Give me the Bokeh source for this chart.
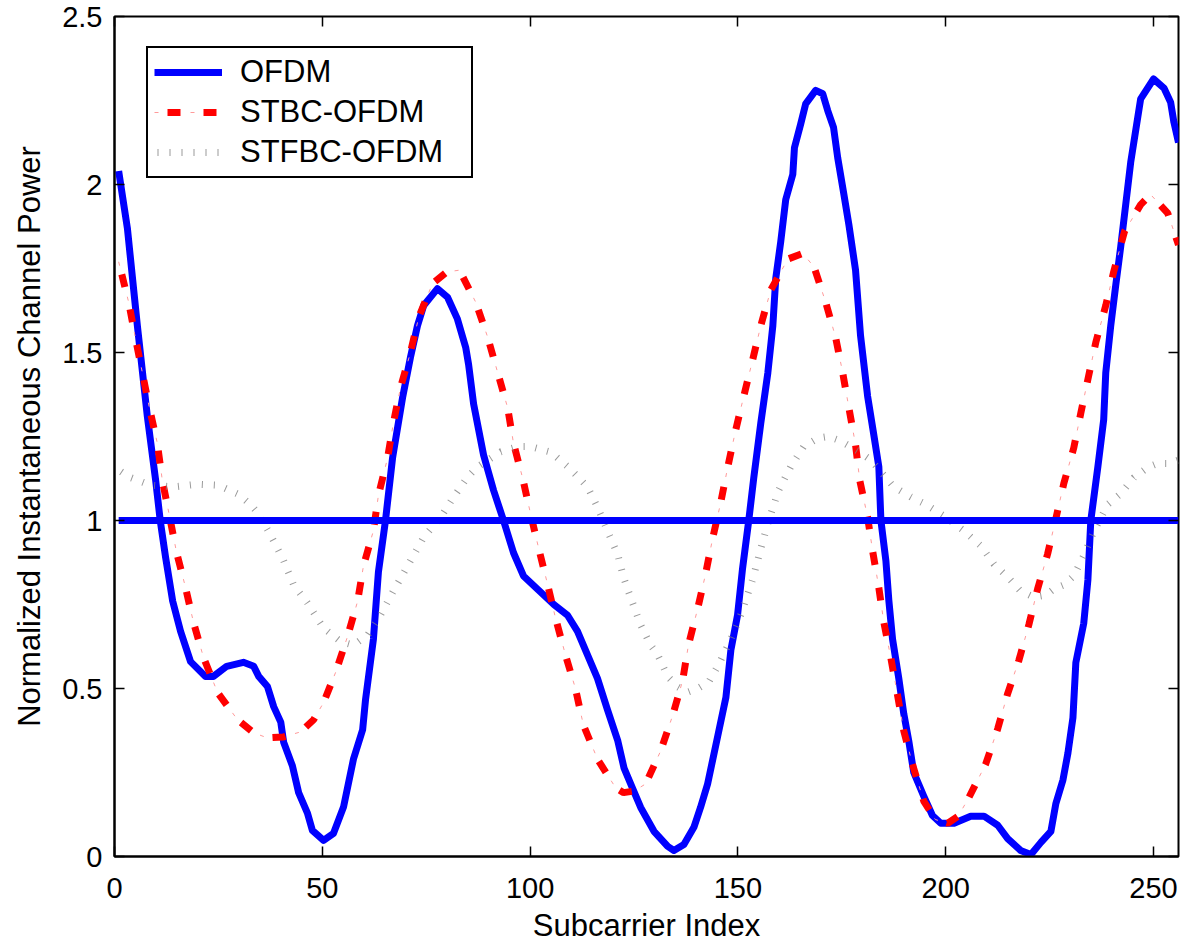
from bokeh.plotting import figure
from bokeh.models import (Range1d, LinearAxis, FixedTicker, CustomJSTickFormatter,
                          Legend, LegendItem)
from bokeh.embed import file_html
from bokeh.resources import INLINE

FONT = "Liberation Sans"

# ---------------- data ----------------
x_ticks = [0, 50, 100, 150, 200, 250]
y_ticks = [0, 0.5, 1, 1.5, 2, 2.5]

ofdm_x = [1, 3.1, 5.5, 7.9, 9.9, 11, 12.3, 14, 15.9, 18.3, 21.9, 23.8, 27, 31, 33.5, 34.7,
          36.8, 38.3, 40, 40.7, 42.8, 44.3, 46.4, 47.6, 50.3, 52.7, 55.1, 57.5, 59.7, 60.4,
          62.3, 63.5, 65.2, 66.9, 69.3, 71.2, 72.9, 74.4, 77.7, 80.1, 82.5, 84.5, 85.2, 86.4,
          88.8, 91.2, 93.6, 96, 98.4, 102.5, 105.7, 109, 111.4, 113.8, 116.2, 118.6, 121.1,
          122.6, 124.6, 126.6, 129.8, 133.1, 134.6, 137, 139.4, 141, 142.7, 145.1, 147.1,
          148.3, 149.9, 151.1, 152.6, 153.8, 155.5, 157.2, 158.4, 159.1, 160.3, 161.5, 163.2,
          163.6, 165.1, 166.3, 168.7, 170.4, 171.6, 173, 174, 175.5, 176.7, 178.3, 179.5,
          181.2, 182.7, 183.9, 184.4, 185.6, 186.3, 187.2, 188.7, 189.9, 191.1, 192.3, 194.7,
          196.8, 198.8, 202, 206, 209.2, 212.5, 214.9, 218, 220.5, 222.9, 225.3, 226.5, 228.2,
          229.4, 230.6, 231.3, 233.2, 234.2, 234.9, 236.6, 238, 238.5, 239.7, 240.9, 242.1,
          244.5, 246.9, 250, 252.5, 254.1, 254.9, 256]
ofdm_y = [2.04, 1.87, 1.58, 1.31, 1.12, 1.0, 0.89, 0.76, 0.67, 0.58, 0.536, 0.536, 0.566, 0.578,
          0.566, 0.536, 0.506, 0.446, 0.40, 0.34, 0.27, 0.19, 0.13, 0.078, 0.048, 0.069, 0.147,
          0.29, 0.377, 0.467, 0.647, 0.847, 1.0, 1.186, 1.365, 1.485, 1.58, 1.64, 1.69, 1.665,
          1.60, 1.515, 1.464, 1.347, 1.195, 1.09, 1.0, 0.904, 0.835, 0.787, 0.75, 0.718, 0.67,
          0.60, 0.53, 0.437, 0.344, 0.263, 0.204, 0.146, 0.075, 0.03, 0.018, 0.036, 0.087,
          0.146, 0.216, 0.356, 0.473, 0.614, 0.718, 0.856, 1.0, 1.126, 1.29, 1.44, 1.58, 1.72,
          1.83, 1.955, 2.03, 2.11, 2.18, 2.24, 2.28, 2.27, 2.22, 2.17, 2.08, 1.97, 1.88, 1.745,
          1.55, 1.37, 1.254, 1.16, 1.0, 0.88, 0.763, 0.647, 0.53, 0.425, 0.344, 0.25, 0.18,
          0.122, 0.099, 0.099, 0.12, 0.12, 0.093, 0.053, 0.018, 0.006, 0.042, 0.075, 0.158,
          0.228, 0.308, 0.413, 0.577, 0.694, 0.823, 1.0, 1.16, 1.30, 1.44, 1.58, 1.70, 1.815,
          2.066, 2.255, 2.314, 2.287, 2.245, 2.185, 2.125]

stbc_x = [1, 3.4, 5, 6.7, 8.4, 10.3, 11.5, 13.2, 14.9, 17.1, 19, 21.4, 24.8, 29.6, 33.5, 36.8,
          40.7, 44.8, 47.9, 50.3, 53.2, 56.1, 58.5, 59.9, 62.3, 63.5, 65.7, 67.1, 68.8, 71.2,
          73.2, 76.5, 80, 83, 86.9, 89.8, 92.2, 94.6, 96, 98.2, 100.1, 102, 104.2, 106.1,
          108.5, 110.9, 112.8, 116.2, 120.6, 122.5, 125, 127.8, 131.4, 134.3, 136.7, 138.1,
          140.3, 142.2, 143.9, 145.8, 147.5, 149.4, 151.4, 153.5, 155.5, 157.9, 162, 165.6,
          168.3, 171.1, 173.5, 175.2, 176.7, 178.3, 179.3, 181.2, 182.4, 183.9, 185.1, 186.8,
          188.4, 189.9, 192.1, 194.7, 197.5, 200.5, 203, 205.5, 209.6, 212.5, 214.9, 217.6,
          220, 222.1, 224.5, 226.5, 228.4, 230.8, 232.5, 234.2, 236.1, 238.5, 240.4, 243,
          246.9, 249.3, 253.4, 256]
stbc_y = [1.77, 1.65, 1.545, 1.44, 1.335, 1.23, 1.12, 1.015, 0.907, 0.80, 0.697, 0.593, 0.488,
          0.407, 0.368, 0.353, 0.356, 0.371, 0.407, 0.458, 0.548, 0.656, 0.76, 0.865, 0.97,
          1.075, 1.186, 1.29, 1.395, 1.5, 1.605, 1.705, 1.74, 1.745, 1.65, 1.545, 1.44, 1.335,
          1.23, 1.126, 1.02, 0.92, 0.81, 0.71, 0.60, 0.50, 0.392, 0.29, 0.204, 0.19, 0.195,
          0.216, 0.314, 0.42, 0.524, 0.63, 0.737, 0.84, 0.946, 1.05, 1.156, 1.266, 1.37, 1.476,
          1.58, 1.686, 1.778, 1.795, 1.755, 1.65, 1.545, 1.44, 1.335, 1.225, 1.12, 1.01, 0.91,
          0.80, 0.697, 0.59, 0.48, 0.374, 0.27, 0.165, 0.11, 0.099, 0.12, 0.174, 0.275, 0.38,
          0.485, 0.584, 0.69, 0.796, 0.90, 1.006, 1.11, 1.216, 1.32, 1.42, 1.53, 1.64, 1.74,
          1.86, 1.94, 1.97, 1.915, 1.82]

stfbc_x = [1, 3.4, 8.7, 14.2, 20, 25, 29.8, 32.7, 34.4, 37.5, 40.7, 43.1, 46.4, 50.3, 54.4,
           57.5, 60.9, 64, 67.1, 71.2, 74.4, 78.5, 81.6, 85, 87.4, 92.9, 97, 100.1, 104.9,
           109.7, 113.8, 116.2, 118.6, 121.1, 122.5, 124.2, 126.6, 129, 130.7, 133.1, 135.5,
           137.9, 140.3, 143, 145.4, 148.3, 150.7, 153.5, 155.5, 157.4, 159.8, 162.7, 165.8,
           169.2, 171.8, 174.7, 178.8, 182, 187.5, 191.6, 195.2, 200, 204.3, 208.4, 211.6,
           214.9, 218, 221.2, 224.1, 226, 228.4, 230.8, 233.2, 235.6, 239, 242.1, 245.3,
           248.6, 251, 253.7, 256]
stfbc_y = [1.15, 1.13, 1.105, 1.10, 1.108, 1.105, 1.078, 1.048, 1.024, 0.958, 0.88, 0.808,
           0.755, 0.68, 0.64, 0.629, 0.659, 0.719, 0.79, 0.88, 0.95, 1.01, 1.07, 1.13, 1.16,
           1.204, 1.22, 1.22, 1.204, 1.153, 1.1, 1.04, 0.97, 0.898, 0.83, 0.77, 0.689, 0.629,
           0.6, 0.536, 0.505, 0.489, 0.5, 0.52, 0.572, 0.647, 0.72, 0.823, 0.916, 1.0, 1.09,
           1.16, 1.22, 1.245, 1.25, 1.237, 1.207, 1.18, 1.10, 1.07, 1.048, 1.01, 0.97, 0.925,
           0.87, 0.832, 0.79, 0.772, 0.778, 0.796, 0.808, 0.835, 0.895, 0.967, 1.048, 1.08,
           1.128, 1.158, 1.17, 1.17, 1.18]

mean_x = [1, 256]
mean_y = [1, 1]

# ---------------- figure ----------------
p = figure(width=1180, height=945, output_backend="svg", toolbar_location=None,
           x_range=Range1d(0, 256), y_range=Range1d(0, 2.5),
           min_border_left=114, min_border_right=2, min_border_top=16, min_border_bottom=89,
           background_fill_color="white", border_fill_color="white")
p.grid.visible = False
p.outline_line_color = "black"
p.outline_line_width = 2
p.outline_line_alpha = 1

fmt = CustomJSTickFormatter(code="return String(tick)")
blank = CustomJSTickFormatter(code="return ''")

for ax in (p.xaxis[0], p.yaxis[0]):
    ax.major_tick_in = 10
    ax.major_tick_out = 0
    ax.minor_tick_line_color = None
    ax.major_tick_line_color = "black"
    ax.major_tick_line_width = 1.5
    ax.axis_line_color = "black"
    ax.axis_line_width = 2
    ax.formatter = fmt
    ax.major_label_text_font = FONT
    ax.major_label_text_font_size = "29px"
    ax.major_label_text_color = "black"
    ax.axis_label_text_font = FONT
    ax.axis_label_text_font_size = "31px"
    ax.axis_label_text_font_style = "normal"
    ax.axis_label_text_color = "black"

p.xaxis[0].ticker = FixedTicker(ticks=x_ticks)
p.yaxis[0].ticker = FixedTicker(ticks=y_ticks)
p.xaxis[0].axis_label = "Subcarrier Index"
p.yaxis[0].axis_label = "Normalized Instantaneous Channel Power"
p.xaxis[0].major_label_standoff = 21
p.xaxis[0].axis_label_standoff = 7
p.yaxis[0].major_label_standoff = 12
p.yaxis[0].axis_label_standoff = 12

# ticks on top and right (box)
top = LinearAxis(ticker=FixedTicker(ticks=x_ticks), formatter=blank,
                 major_tick_in=10, major_tick_out=0, minor_tick_line_color=None,
                 major_tick_line_width=1.5, axis_line_color=None, major_label_standoff=0)
right = LinearAxis(ticker=FixedTicker(ticks=y_ticks), formatter=blank,
                   major_tick_in=10, major_tick_out=0, minor_tick_line_color=None,
                   major_tick_line_width=1.5, axis_line_color=None, major_label_standoff=0)
p.add_layout(top, "above")
p.add_layout(right, "right")

# ---------------- series ----------------
r_ofdm = p.line(ofdm_x, ofdm_y, line_color="#0000ff", line_width=7, line_join="round")
r_stbc = p.line(stbc_x, stbc_y, line_color="#ff0000", line_width=7, line_dash="13 23",
                line_dash_offset=23, line_cap="butt")
r_stbc_dot = p.line(stbc_x, stbc_y, line_color="#ff9a9a", line_width=1, line_dash="4 32",
                    line_dash_offset=0)
r_stfbc = p.line(stfbc_x, stfbc_y, line_color="#808080", line_width=7, line_dash="1 11",
                 line_dash_offset=9, line_cap="butt", line_alpha=0.8)
r_mean = p.line(mean_x, mean_y, line_color="#0000ff", line_width=7)

legend = Legend(items=[
    LegendItem(label="OFDM", renderers=[r_ofdm]),
    LegendItem(label="STBC-OFDM", renderers=[r_stbc, r_stbc_dot]),
    LegendItem(label="STFBC-OFDM", renderers=[r_stfbc]),
], location=(32, 678))
legend.border_line_color = "black"
legend.border_line_width = 2
legend.border_line_alpha = 1
legend.background_fill_color = "white"
legend.background_fill_alpha = 1
legend.label_text_font = FONT
legend.label_text_font_size = "31px"
legend.label_text_color = "black"
legend.glyph_width = 68
legend.glyph_height = 20
legend.label_height = 20
legend.label_width = 225
legend.label_standoff = 18
legend.padding = 6
legend.spacing = 4
legend.margin = 0
p.add_layout(legend)

open("out.html", "w").write(file_html(p, INLINE))
